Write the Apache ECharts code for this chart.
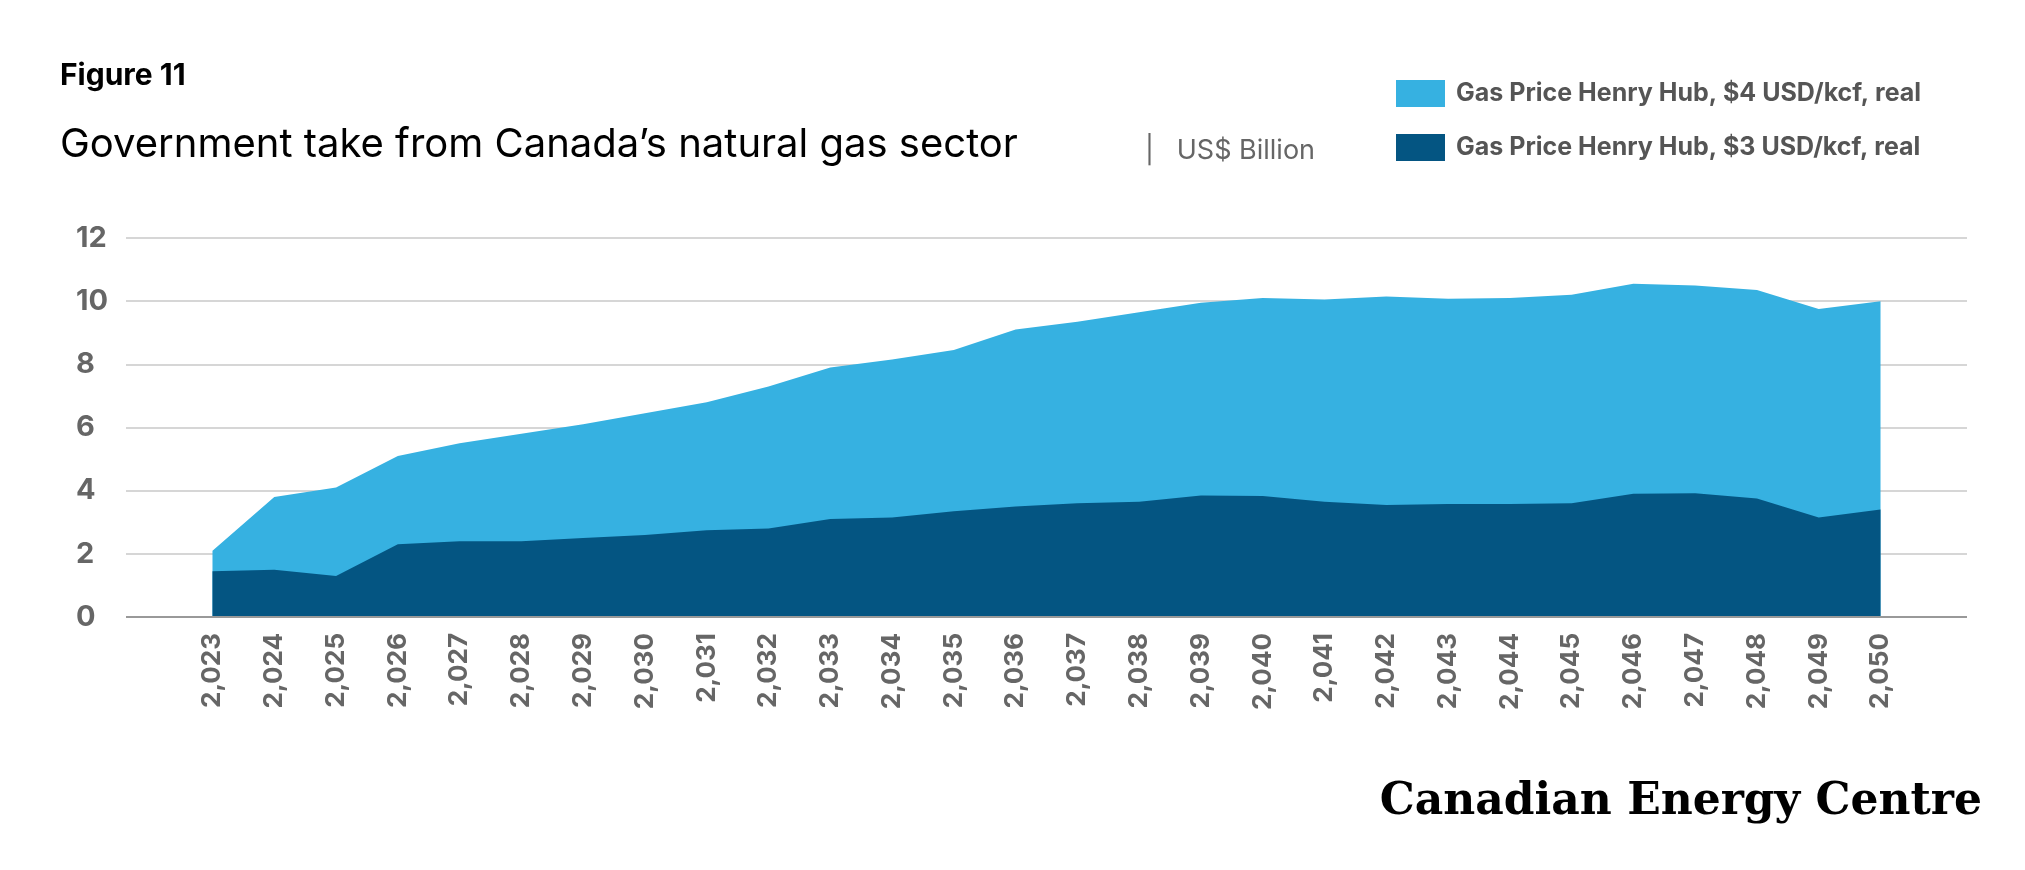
<!DOCTYPE html>
<html><head><meta charset="utf-8">
<script src="https://cdn.jsdelivr.net/npm/echarts@6/dist/echarts.min.js"></script>
<style>html,body{margin:0;background:#fff}#c{width:2025px;height:870px}</style>
</head><body><div id="c"></div>
<script>
const years = [2023,2024,2025,2026,2027,2028,2029,2030,2031,2032,2033,2034,2035,2036,2037,2038,2039,2040,2041,2042,2043,2044,2045,2046,2047,2048,2049,2050];
const price4 = [2.1,3.8,4.1,5.1,5.5,5.8,6.1,6.45,6.8,7.3,7.9,8.15,8.45,9.1,9.35,9.65,9.95,10.1,10.05,10.15,10.08,10.1,10.2,10.55,10.5,10.35,9.75,10.0];
const price3 = [1.45,1.5,1.3,2.3,2.4,2.4,2.5,2.6,2.75,2.8,3.1,3.15,3.35,3.5,3.6,3.65,3.85,3.83,3.65,3.55,3.58,3.58,3.6,3.9,3.92,3.75,3.15,3.4];
const yTicks = [0,2,4,6,8,10,12];
const ch = echarts.init(document.getElementById('c'));
const ff = 'Inter, "Liberation Sans", sans-serif';
ch.setOption({
  animation:false,
  textStyle:{fontFamily:ff},
  grid:{left:126,right:58,top:238,bottom:253},
  title:[
    {text:'Figure 11',left:55,top:56,textStyle:{fontSize:30,fontWeight:'bold',color:'#000',fontFamily:ff}},
    {text:'Government take from Canada’s natural gas sector',left:55,top:120,textStyle:{fontSize:40,fontWeight:'normal',color:'#000',fontFamily:ff}},
    {text:'|   US$ Billion',left:1140,top:132,textStyle:{fontSize:27,fontWeight:'normal',color:'#666',fontFamily:ff}},
    {text:'Canadian Energy Centre',right:38,top:776,textStyle:{fontSize:44,fontWeight:'bold',color:'#000',fontFamily:'"DejaVu Serif", "Liberation Serif", serif'}}
  ],
  legend:{orient:'vertical',left:1391,top:75,itemWidth:49,itemHeight:27,itemGap:27,icon:'rect',
    textStyle:{fontSize:25,fontWeight:'bold',color:'#555',padding:[0,0,0,6]},
    data:['Gas Price Henry Hub, $4 USD/kcf, real','Gas Price Henry Hub, $3 USD/kcf, real']},
  xAxis:{type:'value',min:2021.6,max:2051.4,splitLine:{show:false},
    axisLine:{show:false},axisTick:{show:false},
    axisLabel:{customValues:years,rotate:90,fontSize:26,fontWeight:'bold',color:'#666',margin:16}},
  yAxis:{type:'value',min:0,max:12,interval:2,
    axisLabel:{fontSize:29,fontWeight:'bold',color:'#666',margin:50,align:'left',customValues:yTicks},
    splitLine:{lineStyle:{color:'#c8c8c8',width:1.5}},
    axisLine:{show:false},axisTick:{show:false}},
  series:[
    {name:'Gas Price Henry Hub, $4 USD/kcf, real',type:'line',symbol:'none',z:1,
     lineStyle:{width:0},itemStyle:{color:'#36b1e1'},areaStyle:{color:'#36b1e1',opacity:1},
     data:years.map((y,i)=>[y,price4[i]])},
    {name:'Gas Price Henry Hub, $3 USD/kcf, real',type:'line',symbol:'none',z:2,
     lineStyle:{width:0},itemStyle:{color:'#045582'},areaStyle:{color:'#045582',opacity:1},
     data:years.map((y,i)=>[y,price3[i]]),
     markLine:{silent:true,symbol:'none',label:{show:false},lineStyle:{color:'#999',width:2,type:'solid'},data:[{yAxis:0}]}}
  ]
});
</script></body></html>
